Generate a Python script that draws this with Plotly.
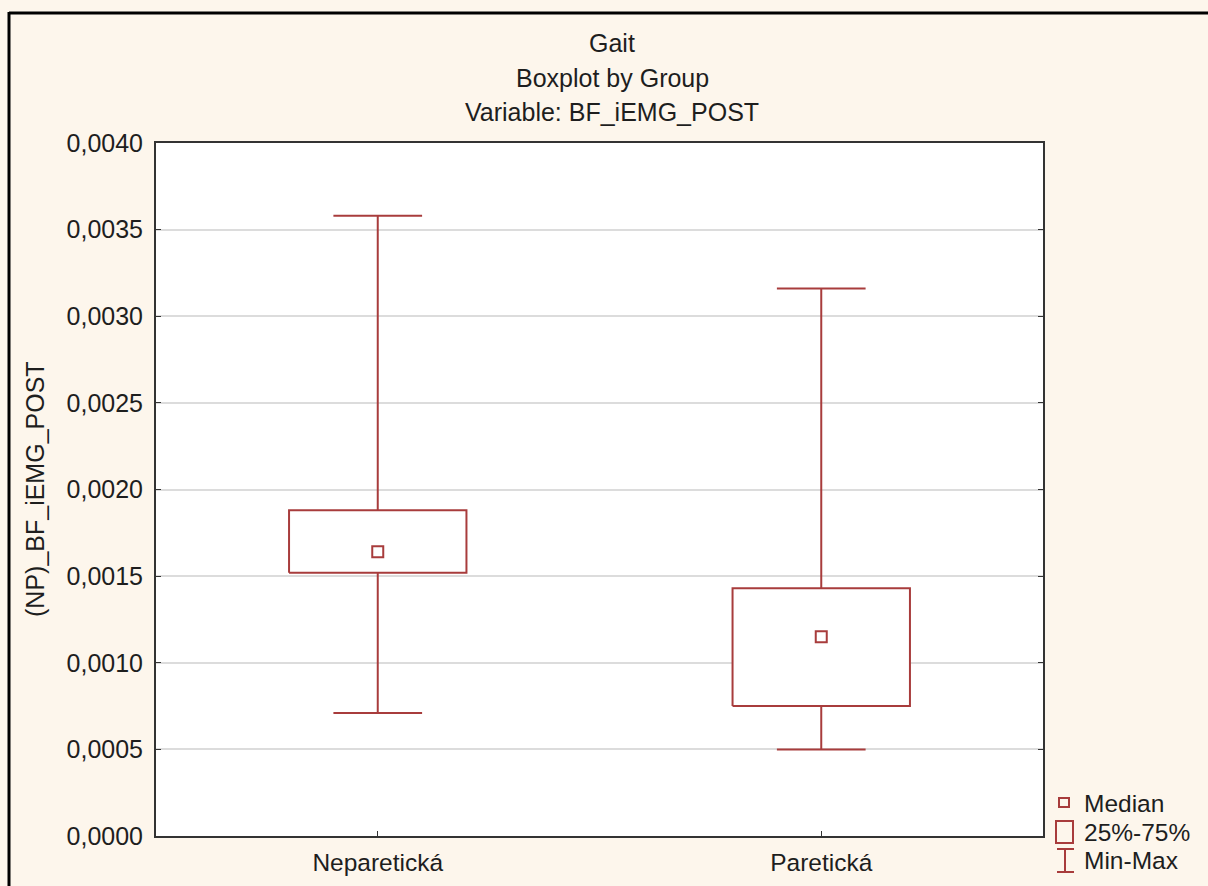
import plotly.graph_objects as go

# Group statistics for BF_iEMG_POST
groups = ["Neparetická", "Paretická"]
minimum = [0.00071, 0.00050]
q1 = [0.00152, 0.00075]
median = [0.00164, 0.00115]
q3 = [0.00188, 0.00143]
maximum = [0.00358, 0.00316]

y_ticks = [0.0, 0.0005, 0.0010, 0.0015, 0.0020, 0.0025, 0.0030, 0.0035, 0.0040]

W, H = 1208, 886
L, R, T, B = 156, 1043, 143, 836  # plot area in pixels

RED = "#a83c3c"
TXT = "#1e1e1e"
CREAM = "#fdf6ec"
FONT = "Liberation Sans, Arial, sans-serif"

BOX_HALF = 0.2
CAP_HALF = 0.1


def px_x(x):
    return (x - L) / (R - L)


def px_y(y):
    return (B - y) / (B - T)


box_x, box_y = [], []
whisk_x, whisk_y = [], []
for i in range(len(groups)):
    # box outline
    box_x += [i - BOX_HALF, i + BOX_HALF, i + BOX_HALF, i - BOX_HALF, i - BOX_HALF, None]
    box_y += [q1[i], q1[i], q3[i], q3[i], q1[i], None]
    # upper whisker + cap
    whisk_x += [i, i, None, i - CAP_HALF, i + CAP_HALF, None]
    whisk_y += [q3[i], maximum[i], None, maximum[i], maximum[i], None]
    # lower whisker + cap
    whisk_x += [i, i, None, i - CAP_HALF, i + CAP_HALF, None]
    whisk_y += [q1[i], minimum[i], None, minimum[i], minimum[i], None]

fig = go.Figure()
fig.add_trace(go.Scatter(x=whisk_x, y=whisk_y, mode="lines",
                         line=dict(color=RED, width=2), hoverinfo="skip",
                         showlegend=False))
fig.add_trace(go.Scatter(x=box_x, y=box_y, mode="lines", fill="toself",
                         fillcolor="white", line=dict(color=RED, width=2),
                         hoverinfo="skip", showlegend=False))
fig.add_trace(go.Scatter(x=list(range(len(groups))), y=median, mode="markers",
                         marker=dict(symbol="square-open", size=11, color=RED,
                                     line=dict(width=2, color=RED)),
                         showlegend=False))

annotations = []
# title lines
for text, ypx in [("Gait", 43), ("Boxplot by Group", 78), ("Variable: BF_iEMG_POST", 112)]:
    annotations.append(dict(text=text, xref="paper", yref="paper",
                            x=px_x(612), y=px_y(ypx), xanchor="center",
                            yanchor="middle", showarrow=False,
                            font=dict(family=FONT, size=25, color=TXT)))
# y axis title
annotations.append(dict(text="(NP)_BF_iEMG_POST", xref="paper", yref="paper",
                        x=px_x(35), y=px_y(489), textangle=-90, xanchor="center",
                        yanchor="middle", showarrow=False,
                        font=dict(family=FONT, size=25, color=TXT)))
# legend labels
for text, ypx in [("Median", 803), ("25%-75%", 832), ("Min-Max", 860)]:
    annotations.append(dict(text=text, xref="paper", yref="paper",
                            x=px_x(1082), y=px_y(ypx), xanchor="left",
                            yanchor="middle", showarrow=False,
                            font=dict(family=FONT, size=24.5, color=TXT)))

shapes = [
    # outer frame (top and left edges)
    dict(type="line", xref="paper", yref="paper", x0=px_x(9), x1=px_x(1230),
         y0=px_y(13), y1=px_y(13), line=dict(color="black", width=3), layer="below"),
    dict(type="line", xref="paper", yref="paper", x0=px_x(9), x1=px_x(9),
         y0=px_y(12), y1=px_y(920), line=dict(color="black", width=3), layer="below"),
    # legend icons
    dict(type="rect", xref="paper", yref="paper", x0=px_x(1059), x1=px_x(1069),
         y0=px_y(798), y1=px_y(807), line=dict(color=RED, width=2)),
    dict(type="rect", xref="paper", yref="paper", x0=px_x(1056), x1=px_x(1073),
         y0=px_y(821), y1=px_y(843), line=dict(color=RED, width=2)),
    dict(type="line", xref="paper", yref="paper", x0=px_x(1065), x1=px_x(1065),
         y0=px_y(849), y1=px_y(872), line=dict(color=RED, width=2)),
    dict(type="line", xref="paper", yref="paper", x0=px_x(1057), x1=px_x(1074),
         y0=px_y(849), y1=px_y(849), line=dict(color=RED, width=2)),
    dict(type="line", xref="paper", yref="paper", x0=px_x(1057), x1=px_x(1074),
         y0=px_y(872), y1=px_y(872), line=dict(color=RED, width=2)),
]

fig.update_layout(
    width=W, height=H,
    margin=dict(l=L, r=W - R, t=T, b=H - B, autoexpand=False),
    paper_bgcolor=CREAM, plot_bgcolor="white",
    separators=", ",
    font=dict(family=FONT, size=25, color=TXT),
    showlegend=False,
    annotations=annotations,
    shapes=shapes,
    xaxis=dict(range=[-0.5, 1.5], tickvals=list(range(len(groups))), ticktext=groups,
               showgrid=False, zeroline=False, showline=True, linecolor="#333333",
               linewidth=2, mirror=True, ticks="inside", ticklen=5,
               tickcolor="#333333", tickfont=dict(size=24.5, color=TXT),
               ticklabelstandoff=4),
    yaxis=dict(range=[0, 0.004], tickvals=y_ticks, tickformat=".4f",
               showgrid=True, gridcolor="#dcdcdc", gridwidth=2, zeroline=False,
               showline=True, linecolor="#333333", linewidth=2, mirror="ticks",
               ticks="inside", ticklen=5, tickcolor="#333333",
               tickfont=dict(size=25, color=TXT), ticklabelstandoff=6),
)

fig.write_html("out.html")
